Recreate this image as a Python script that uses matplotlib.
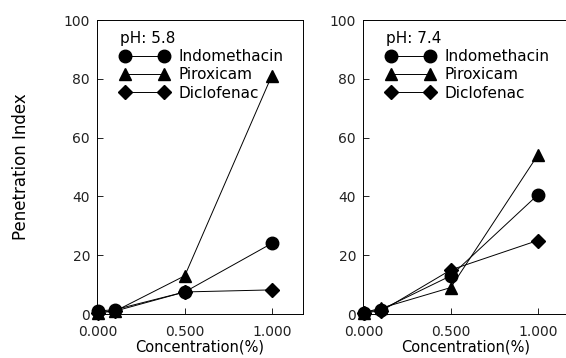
import matplotlib
matplotlib.use("Agg")
import matplotlib.pyplot as plt

# concentration (%)
conc = [0.0, 0.1, 0.5, 1.0]

# pH 5.8
indo_58 = [1.0, 1.5, 7.5, 24.0]
pirox_58 = [0.5, 1.0, 13.0, 81.0]
diclo_58 = [0.5, 1.0, 7.5, 8.2]

# pH 7.4
indo_74 = [0.5, 1.5, 13.0, 40.5]
pirox_74 = [0.5, 2.0, 9.0, 54.0]
diclo_74 = [0.5, 1.0, 15.0, 25.0]

drugs = ["Indomethacin", "Piroxicam", "Diclofenac"]
markers = ["o", "^", "D"]
msizes = [9, 9, 7]

plt.rcParams["font.family"] = "DejaVu Sans"
plt.rcParams["font.size"] = 10

fig = plt.figure(figsize=(5.66, 3.58), dpi=100)
ax1 = fig.add_axes([97 / 566, 44 / 358, 206 / 566, 294 / 358])
ax2 = fig.add_axes([363 / 566, 44 / 358, 206 / 566, 294 / 358])

panels = [
    (ax1, "pH: 5.8", [indo_58, pirox_58, diclo_58]),
    (ax2, "pH: 7.4", [indo_74, pirox_74, diclo_74]),
]

for ax, title, series in panels:
    for name, vals, m, ms in zip(drugs, series, markers, msizes):
        ax.plot(conc, vals, marker=m, markersize=ms, color="black",
                linewidth=0.7, label=name, clip_on=False, zorder=3)
    ax.set_xlim(-0.005, 1.18)
    ax.set_ylim(0, 100)
    ax.set_yticks([0, 20, 40, 60, 80, 100])
    ax.set_xticks([0.0, 0.5, 1.0])
    ax.set_xticklabels(["0.000", "0.500", "1.000"])
    ax.tick_params(direction="in", length=4, width=0.7,
                   labelsize=10, colors="#222222")
    ax.tick_params(axis="x", pad=8)
    ax.tick_params(axis="y", pad=5)
    for sp in ax.spines.values():
        sp.set_linewidth(0.7)
    ax.set_xlabel("Concentration(%)", fontsize=10.5, labelpad=0)
    ax.legend(title=title, loc="upper left", numpoints=2,
              frameon=False, handlelength=3.2, handletextpad=0.6,
              labelspacing=0.22, borderaxespad=0.3,
              bbox_to_anchor=(0.06, 1.0), fontsize=11,
              title_fontsize=11, alignment="left")

ax1.set_ylabel("Penetration Index", fontsize=12, labelpad=24)

fig.savefig("out.png", dpi=100)
